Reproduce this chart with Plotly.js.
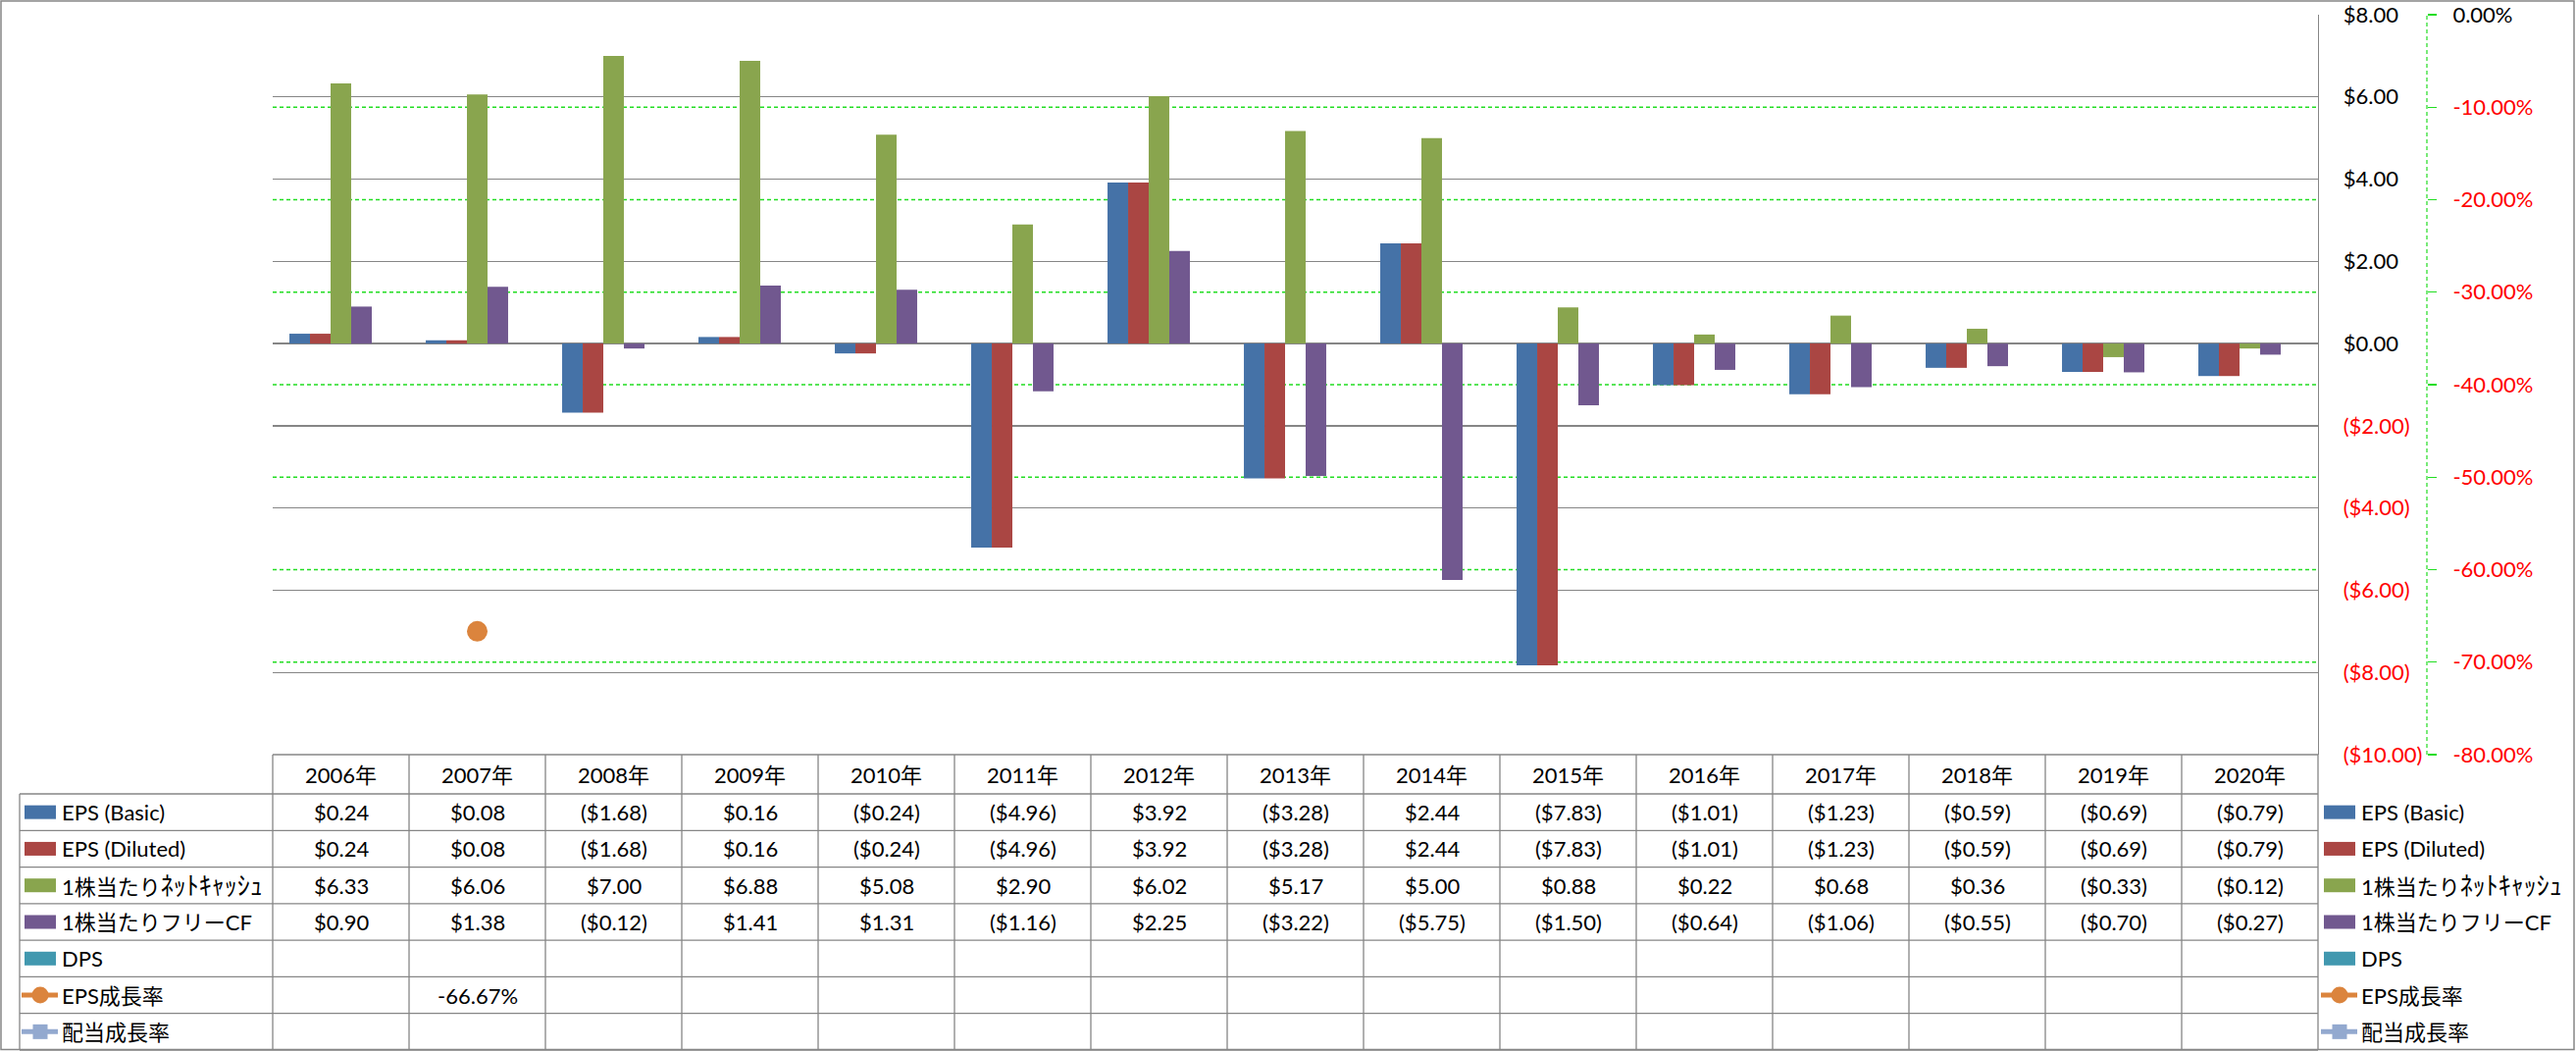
<!DOCTYPE html>
<html>
<head>
<meta charset="utf-8">
<script src="https://cdn.plot.ly/plotly-3.0.1.min.js"></script>
<style>html,body{margin:0;padding:0;background:#fff;}#chart{width:2626px;height:1071px;}</style>
</head>
<body>
<div id="chart"></div>
<script>
// ---------- data ----------
const categories = ['2006年','2007年','2008年','2009年','2010年','2011年','2012年','2013年','2014年','2015年','2016年','2017年','2018年','2019年','2020年'];
const epsBasic   = [0.24, 0.08, -1.68, 0.16, -0.24, -4.96, 3.92, -3.28, 2.44, -7.83, -1.01, -1.23, -0.59, -0.69, -0.79];
const epsDiluted = [0.24, 0.08, -1.68, 0.16, -0.24, -4.96, 3.92, -3.28, 2.44, -7.83, -1.01, -1.23, -0.59, -0.69, -0.79];
const netCashPS  = [6.33, 6.06, 7.00, 6.88, 5.08, 2.90, 6.02, 5.17, 5.00, 0.88, 0.22, 0.68, 0.36, -0.33, -0.12];
const fcfPS      = [0.90, 1.38, -0.12, 1.41, 1.31, -1.16, 2.25, -3.22, -5.75, -1.50, -0.64, -1.06, -0.55, -0.70, -0.27];
const dps        = [null, null, null, null, null, null, null, null, null, null, null, null, null, null, null];
const epsGrowth  = [null, -66.67, null, null, null, null, null, null, null, null, null, null, null, null, null];
const divGrowth  = [null, null, null, null, null, null, null, null, null, null, null, null, null, null, null];
const seriesNames = ['EPS (Basic)', 'EPS (Diluted)', '1株当たりﾈｯﾄｷｬｯｼｭ', '1株当たりフリーCF', 'DPS', 'EPS成長率', '配当成長率'];
const usdTicks = [8, 6, 4, 2, 0, -2, -4, -6, -8, -10];
const pctTicks = [0, -10, -20, -30, -40, -50, -60, -70, -80];

// ---------- styles ----------
const colors = ['#4572A7', '#AA4643', '#89A54E', '#71588F', '#4198AF', '#DB843D', '#93A9CF'];
const FONT = "Lato, 'Noto Sans CJK JP', sans-serif";
const FS = 22;
const GRID = '#868686';
const GREEN = '#22dd22';
const W = 2626, H = 1071;
const L = 278, R = 152, T = 15, B = 302;
const PW = W - L - R, PH = H - T - B;
const plotRight = 2363;
const xDomEnd = (plotRight - L) / PW;
const px = v => (v - L) / PW;
const py = v => (H - B - v) / PH;

const fmtUSD = v => v < 0 ? '($' + Math.abs(v).toFixed(2) + ')' : '$' + v.toFixed(2);
const fmtPct = v => v.toFixed(2) + '%';
const red = s => '<span style="color:#ff0000">' + s + '</span>';
const fmtLabel = s => s.replace(/([\uFF61-\uFF9F]+)/g, '<span style="font-size:26px">$1</span>');

// ---------- traces ----------
const barSeries = [epsBasic, epsDiluted, netCashPS, fcfPS, dps];
const traces = barSeries.map((vals, i) => ({
  type: 'bar', x: categories, y: vals, name: seriesNames[i],
  marker: {color: colors[i], line: {width: 0}}, hoverinfo: 'skip'
}));
traces.push({type: 'scatter', mode: 'lines+markers', x: categories, y: epsGrowth, yaxis: 'y2', name: seriesNames[5],
  line: {color: colors[5], width: 4}, marker: {color: colors[5], size: 21, symbol: 'circle'}, hoverinfo: 'skip'});
traces.push({type: 'scatter', mode: 'lines+markers', x: categories, y: divGrowth, yaxis: 'y2', name: seriesNames[6],
  line: {color: colors[6], width: 4}, marker: {color: colors[6], size: 16, symbol: 'square'}, hoverinfo: 'skip'});

// ---------- table geometry ----------
const headTop = 769, headBot = 809, tableBot = 1070;
const nRows = 7;
const rowH = (tableBot - headBot) / nRows;
const rowMid = r => headBot + rowH * (r + 0.5);

const shapes = [];
const annotations = [];

// outer border
shapes.push({type: 'rect', xref: 'paper', yref: 'paper', x0: px(1), x1: px(W - 2), y0: py(1), y1: py(H - 1.5),
  line: {color: GRID, width: 1.5}, fillcolor: 'rgba(0,0,0,0)', layer: 'below'});

// green dashed grid (secondary axis)
pctTicks.filter(t => t !== 0 && t !== -80).forEach(t => {
  shapes.push({type: 'line', xref: 'paper', yref: 'y2', x0: 0, x1: xDomEnd, y0: t, y1: t,
    line: {color: GREEN, width: 1.5, dash: '4px,3px'}, layer: 'below'});
});
// secondary axis line dashed
shapes.push({type: 'line', xref: 'paper', yref: 'paper', x0: 1, x1: 1, y0: 0, y1: 1,
  line: {color: GREEN, width: 1.2, dash: '4px,3px'}});

// table lines
const tblLine = {color: GRID, width: 1.3};
shapes.push({type: 'line', xref: 'paper', yref: 'paper', x0: 0, x1: xDomEnd, y0: py(headTop), y1: py(headTop), line: tblLine});
for (let r = 0; r <= nRows; r++) {
  const y = headBot + rowH * r;
  shapes.push({type: 'line', xref: 'paper', yref: 'paper', x0: px(20), x1: xDomEnd, y0: py(y), y1: py(y), line: tblLine});
}
shapes.push({type: 'line', xref: 'paper', yref: 'paper', x0: px(20), x1: px(20), y0: py(headBot), y1: py(tableBot), line: tblLine});
for (let c = 0; c <= categories.length; c++) {
  const xx = c / categories.length * xDomEnd;
  shapes.push({type: 'line', xref: 'paper', yref: 'paper', x0: xx, x1: xx, y0: py(headTop), y1: py(tableBot), line: tblLine});
}

// header labels
categories.forEach(c => annotations.push({xref: 'x', yref: 'paper', x: c, y: py((headTop + headBot) / 2),
  text: c, showarrow: false, xanchor: 'center', yanchor: 'middle'}));

// table values
const tableRows = [
  epsBasic.map(v => v === null ? '' : fmtUSD(v)),
  epsDiluted.map(v => v === null ? '' : fmtUSD(v)),
  netCashPS.map(v => v === null ? '' : fmtUSD(v)),
  fcfPS.map(v => v === null ? '' : fmtUSD(v)),
  dps.map(v => v === null ? '' : fmtUSD(v)),
  epsGrowth.map(v => v === null ? '' : fmtPct(v)),
  divGrowth.map(v => v === null ? '' : fmtPct(v))
];
tableRows.forEach((row, r) => row.forEach((t, i) => {
  if (t) annotations.push({xref: 'x', yref: 'paper', x: categories[i], y: py(rowMid(r)), text: t,
    showarrow: false, xanchor: 'center', yanchor: 'middle'});
}));

// legend keys (left table column and right legend)
function legendKey(x0, r) {
  const yc = rowMid(r);
  if (r < 5) {
    shapes.push({type: 'rect', xref: 'paper', yref: 'paper', x0: px(x0), x1: px(x0 + 32), y0: py(yc - 7), y1: py(yc + 7),
      line: {width: 0}, fillcolor: colors[r]});
  } else {
    shapes.push({type: 'line', xref: 'paper', yref: 'paper', x0: px(x0 - 3), x1: px(x0 + 34), y0: py(yc), y1: py(yc),
      line: {color: colors[r], width: 5}});
    const s = r === 5 ? 8.5 : 7.5;
    shapes.push({type: r === 5 ? 'circle' : 'rect', xref: 'paper', yref: 'paper',
      x0: px(x0 + 16 - s), x1: px(x0 + 16 + s), y0: py(yc - s), y1: py(yc + s),
      line: {width: 0}, fillcolor: colors[r]});
  }
  annotations.push({xref: 'paper', yref: 'paper', x: px(x0 + 36), y: py(yc), text: fmtLabel(seriesNames[r]),
    showarrow: false, xanchor: 'left', yanchor: 'middle'});
}
for (let r = 0; r < nRows; r++) { legendKey(25, r); legendKey(2369, r); }

// ---------- layout ----------
const layout = {
  width: W, height: H,
  margin: {l: L, r: R, t: T, b: B, pad: 0},
  paper_bgcolor: '#ffffff', plot_bgcolor: 'rgba(0,0,0,0)',
  font: {family: FONT, size: FS, color: '#000000'},
  showlegend: false,
  barmode: 'group', bargap: 0.245, bargroupgap: 0,
  xaxis: {type: 'category', domain: [0, xDomEnd], range: [-0.5, categories.length - 0.5],
    showticklabels: false, ticks: '', showgrid: false, zeroline: false, showline: false, fixedrange: true},
  yaxis: {anchor: 'x', side: 'right', range: [-10, 8], tickvals: usdTicks,
    ticktext: usdTicks.map(v => v < 0 ? red(fmtUSD(v)) : fmtUSD(v)),
    showgrid: true, gridcolor: GRID, gridwidth: 1.3, zeroline: false,
    showline: true, linecolor: GRID, linewidth: 1.3, ticks: '', ticklabelstandoff: 20,
    tickfont: {family: FONT, size: FS, color: '#000'}, fixedrange: true},
  yaxis2: {overlaying: 'y', anchor: 'free', position: 1, side: 'right', range: [-80, 0], tickvals: pctTicks,
    ticktext: pctTicks.map(v => v < 0 ? red(fmtPct(v)) : fmtPct(v)),
    showgrid: false, zeroline: false, showline: false,
    ticks: 'outside', ticklen: 9, tickwidth: 1.2, tickcolor: GREEN, ticklabelstandoff: 12,
    tickfont: {family: FONT, size: FS, color: '#000'}, fixedrange: true},
  shapes: shapes,
  annotations: annotations
};

Plotly.newPlot('chart', traces, layout, {staticPlot: true, displayModeBar: false});
</script>
</body>
</html>
